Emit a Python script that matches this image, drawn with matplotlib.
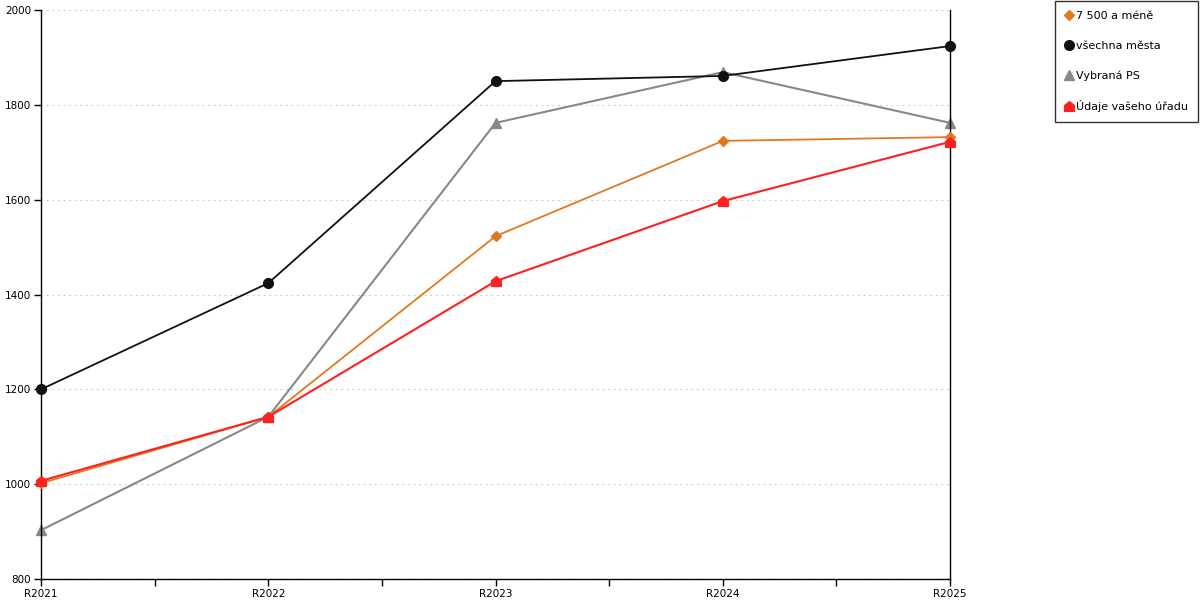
import numpy as np
import matplotlib.pyplot as plt
from matplotlib.path import Path
from matplotlib.lines import Line2D

years = ['R2021', 'R2022', 'R2023', 'R2024', 'R2025']
small_towns = [1002, 1142, 1523, 1724, 1732]
all_towns = [1200, 1424, 1850, 1861, 1924]
selected_ps = [903, 1142, 1762, 1869, 1762]
your_office = [1007, 1142, 1428, 1597, 1722]

labels = ['7 500 a méně', 'všechna města', 'Vybraná PS', 'Údaje vašeho úřadu']

# house-shaped marker for the office series
house = Path([(-1, -1), (1, -1), (1, 0.2), (0, 1), (-1, 0.2), (-1, -1)],
             [Path.MOVETO, Path.LINETO, Path.LINETO, Path.LINETO,
              Path.LINETO, Path.CLOSEPOLY])

plt.rcParams['font.family'] = 'DejaVu Sans'

fig = plt.figure(figsize=(12, 6), dpi=100)
ax = fig.add_axes([0.0342, 0.035, 0.7575, 0.9483])

x = np.arange(len(years))

series = [
    (selected_ps, '#888888', '^', 7, 1.5, 2),
    (all_towns, '#111111', 'o', 7, 1.3, 3),
    (small_towns, '#e07a22', 'D', 5, 1.3, 4),
    (your_office, '#ff2020', house, 7, 1.5, 5),
]
for vals, col, mk, ms, lw, z in series:
    ax.plot(x, vals, color=col, marker=mk, markersize=ms, linewidth=lw,
            zorder=z, clip_on=False)

ax.set_xlim(0, len(years) - 1)
ax.set_ylim(800, 2000)
ax.set_xticks(x)
ax.set_xticklabels(years)
ax.set_xticks(x[:-1] + 0.5, minor=True)
ax.set_yticks(np.arange(800, 2001, 200))

ax.spines['top'].set_visible(False)
for s in ['left', 'right', 'bottom']:
    ax.spines[s].set_linewidth(1.0)
    ax.spines[s].set_color('black')

ax.tick_params(axis='both', which='both', direction='out', length=5,
               width=1, labelsize=7.5, pad=2)
ax.tick_params(axis='x', which='minor', length=5)
ax.tick_params(axis='y', right=False)

ax.grid(axis='y', color='#c8c8c8', linestyle=(0, (1.5, 3.5)), linewidth=0.8)
ax.set_axisbelow(True)

handles = [
    Line2D([], [], color='#e07a22', marker='D', markersize=5, linestyle='none'),
    Line2D([], [], color='#111111', marker='o', markersize=7, linestyle='none'),
    Line2D([], [], color='#888888', marker='^', markersize=7, linestyle='none'),
    Line2D([], [], color='#ff2020', marker=house, markersize=7, linestyle='none'),
]
leg = fig.legend(handles, labels, loc='upper left',
                 bbox_to_anchor=(0.8795, 0.998), fontsize=8,
                 frameon=True, fancybox=False, edgecolor='black',
                 labelspacing=1.75, handlelength=0.6, handletextpad=0.35,
                 borderpad=0.9, borderaxespad=0)
leg.get_frame().set_linewidth(1.0)

fig.savefig('out.png', dpi=100)
